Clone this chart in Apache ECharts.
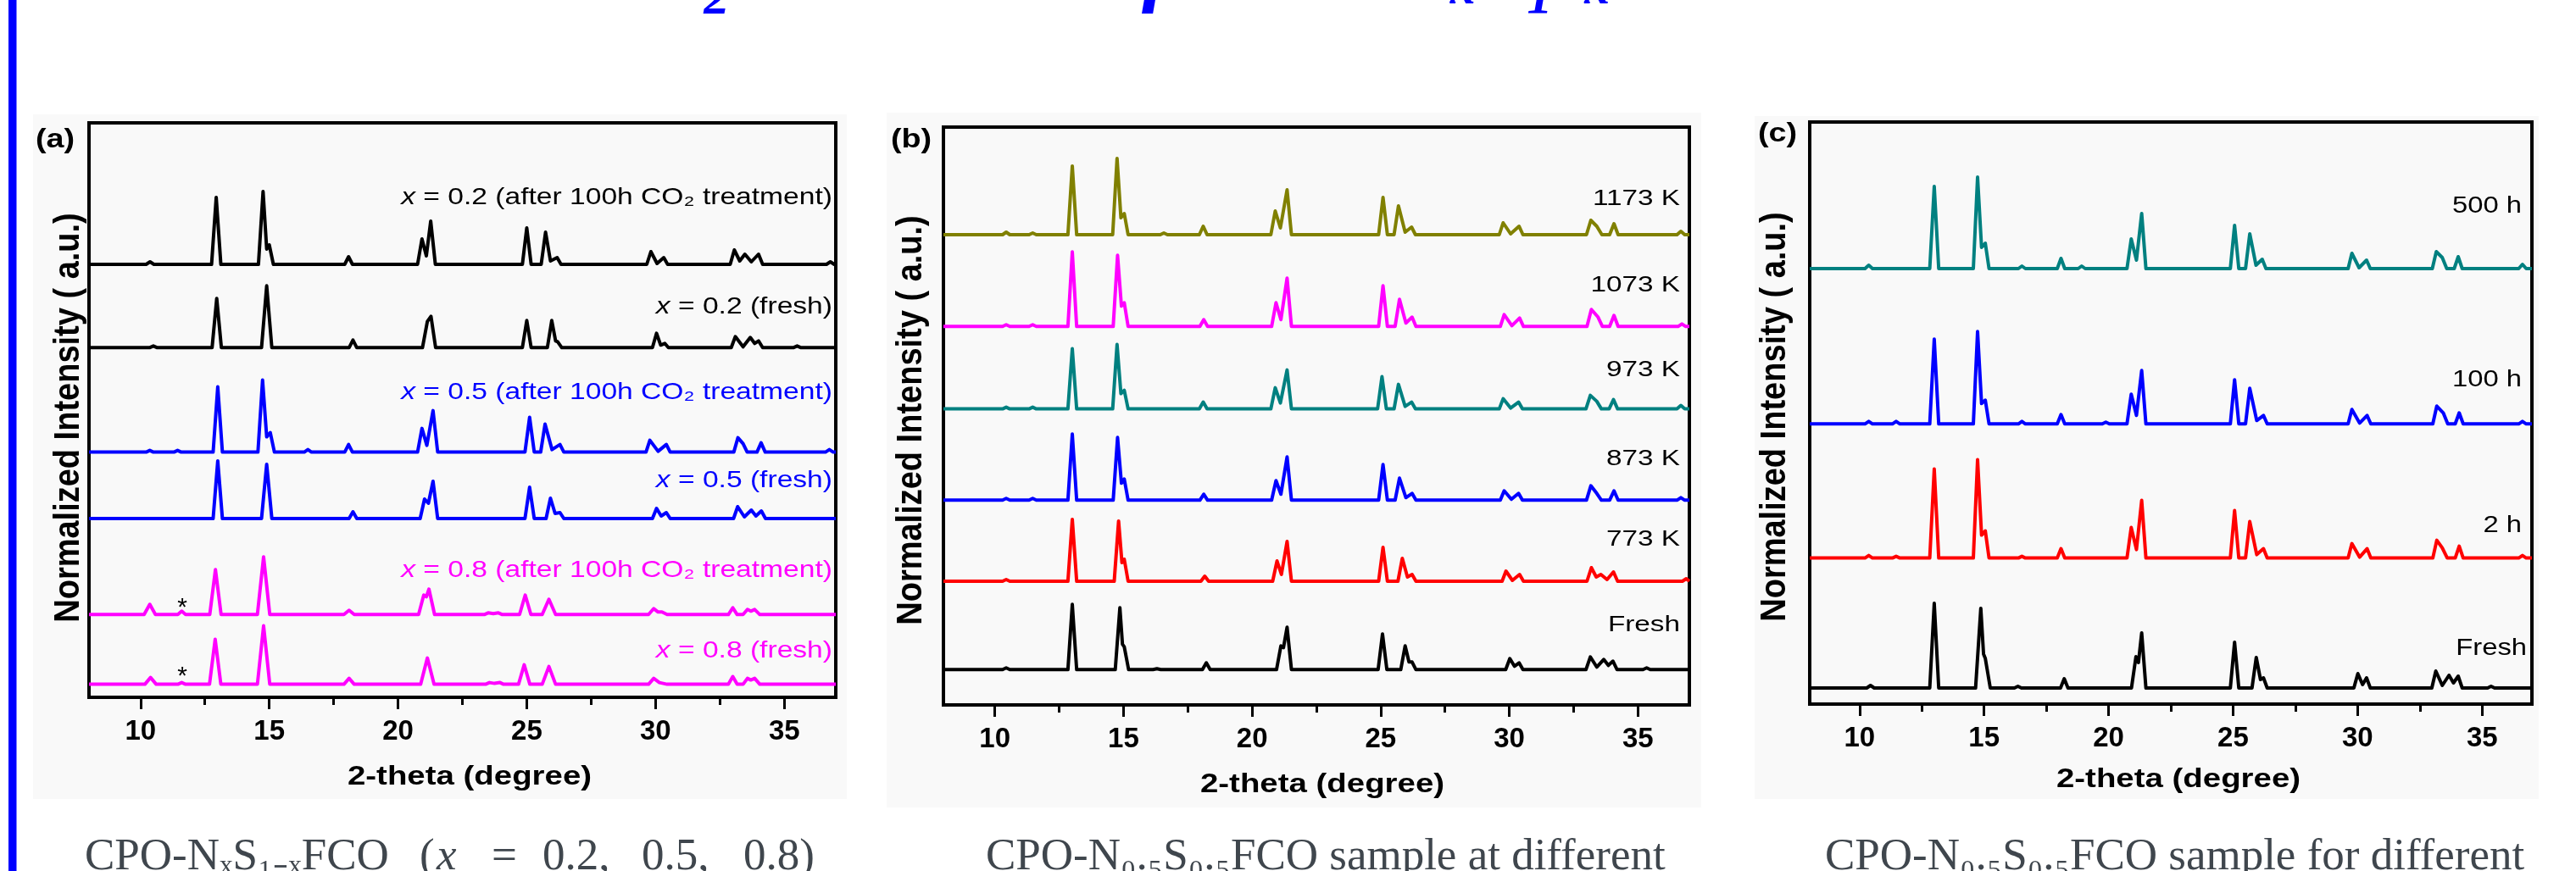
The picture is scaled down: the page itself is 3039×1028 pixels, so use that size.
<!DOCTYPE html>
<html><head><meta charset="utf-8">
<script src="https://cdn.jsdelivr.net/npm/echarts@6/dist/echarts.min.js"></script>
<style>html,body{margin:0;padding:0;background:#fff;}#c{width:3039px;height:1028px;}</style>
</head><body><div id="c"></div>
<script>
// ---------- axis ticks ----------
const xTicks = [10, 15, 20, 25, 30, 35];
const xMinorTicks = [12.5, 17.5, 22.5, 27.5, 32.5];

// ---------- panel (a): CPO-NxS1-xFCO, intensity above own baseline ----------
const a_x02_CO2 = [[8,0],[10.22,0],[10.37,3],[10.52,0],[12.76,0],[12.94,79],[13.12,0],
 [14.58,0],[14.76,86],[14.9,18],[15.0,23],[15.16,0],[17.93,0],[18.08,9],[18.23,0],
 [20.76,0],[20.93,30],[21.1,10],[21.27,51],[21.45,0],[24.83,0],[25.0,43],[25.17,0],
 [25.56,0],[25.73,38],[25.92,4],[26.18,8],[26.33,0],[29.66,0],[29.82,15],[30.06,1],[30.32,8],[30.47,0],
 [32.9,0],[33.06,17],[33.27,4],[33.47,12],[33.72,3],[34.0,12],[34.16,0],[36.64,0],[36.79,3],[36.94,0],[37,0]];
const a_x02_fresh = [[8,0],[10.35,0],[10.5,2],[10.65,0],[12.78,0],[12.96,58],[13.14,0],
 [14.7,0],[14.9,73],[15.1,0],[18.1,0],[18.25,9],[18.4,0],
 [20.95,0],[21.14,31],[21.2,29],[21.28,37],[21.46,0],[24.83,0],[25.0,32],[25.17,0],
 [25.8,0],[25.97,32],[26.12,8],[26.2,7],[26.36,0],[29.88,0],[30.04,17],[30.2,3],[30.36,5],[30.5,0],
 [32.94,0],[33.1,13],[33.4,1],[33.68,12],[33.85,5],[34.0,8],[34.16,0],[35.35,0],[35.5,2],[35.65,0],[37,0]];
const a_x05_CO2 = [[8,0],[10.22,0],[10.36,2],[10.5,0],[11.3,0],[11.44,2],[11.58,0],
 [12.82,0],[13.0,77],[13.18,0],[14.56,0],[14.74,85],[14.9,18],[15.04,23],[15.2,0],
 [16.36,0],[16.5,3],[16.64,0],[17.93,0],[18.08,9],[18.23,0],
 [20.76,0],[20.93,28],[21.12,8],[21.36,49],[21.54,0],[24.93,0],[25.11,41],[25.29,0],
 [25.54,0],[25.71,33],[25.98,3],[26.29,9],[26.44,0],[29.63,0],[29.78,14],[30.1,1],[30.42,9],[30.57,0],
 [33.04,0],[33.2,17],[33.4,10],[33.56,0],[33.94,0],[34.1,11],[34.26,0],[36.6,0],[36.75,3],[36.9,0],[37,0]];
const a_x05_fresh = [[8,0],[12.82,0],[13.0,68],[13.18,0],[14.7,0],[14.9,64],[15.1,0],
 [18.1,0],[18.25,8],[18.4,0],[20.86,0],[21.03,23],[21.18,18],[21.36,44],[21.54,0],
 [24.93,0],[25.11,37],[25.29,0],[25.75,0],[25.92,24],[26.1,6],[26.29,7],[26.44,0],
 [29.88,0],[30.04,12],[30.22,3],[30.42,7],[30.57,0],
 [33.03,0],[33.19,14],[33.45,2],[33.72,10],[33.9,3],[34.11,9],[34.27,0],[37,0]];
const a_x08_CO2 = [[8,0],[10.14,0],[10.36,12],[10.58,0],[11.45,0],[11.6,4],[11.75,0],
 [12.69,0],[12.91,53],[13.13,0],[14.54,0],[14.78,68],[15.02,0],[17.9,0],[18.1,5],[18.3,0],
 [20.8,0],[21.0,23],[21.1,21],[21.2,30],[21.42,0],[23.35,0],[23.5,2],[23.7,1],[23.9,2],[24.05,0],
 [24.72,0],[24.94,23],[25.16,0],[25.6,0],[25.86,18],[26.12,0],
 [29.73,0],[29.93,7],[30.1,3],[30.25,3],[30.45,0],
 [32.83,0],[33.0,8],[33.17,0],[33.4,0],[33.57,6],[33.7,4],[33.85,6],[34.05,0],[37,0]];
const a_x08_fresh = [[8,0],[10.17,0],[10.39,8],[10.61,0],[11.45,0],[11.6,2],[11.75,0],
 [12.68,0],[12.9,53],[13.12,0],[14.54,0],[14.78,69],[15.02,0],[17.9,0],[18.1,7],[18.3,0],
 [20.88,0],[21.14,31],[21.4,0],[23.4,0],[23.55,2],[23.75,1],[23.96,2],[24.1,0],
 [24.68,0],[24.9,23],[25.12,0],[25.6,0],[25.86,21],[26.12,0],
 [29.73,0],[29.93,7],[30.15,2],[30.3,1],[30.45,0],
 [32.83,0],[33.0,9],[33.17,0],[33.4,0],[33.57,7],[33.7,5],[33.85,7],[34.05,0],[37,0]];
const a_offsets = [511, 412.7, 289.4, 211, 97.7, 15.4];
const a_colors = ['#000000','#000000','#0000ff','#0000ff','#ff00ff','#ff00ff'];
const a_names = ['x = 0.2 (after 100h CO₂ treatment)','x = 0.2 (fresh)','x = 0.5 (after 100h CO₂ treatment)','x = 0.5 (fresh)','x = 0.8 (after 100h CO₂ treatment)','x = 0.8 (fresh)'];

// ---------- panel (b): calcination temperature ----------
const b_1173 = [[8,0],[10.3,0],[10.44,3],[10.58,0],[11.33,0],[11.47,2],[11.61,0],
 [12.84,0],[13.01,81],[13.18,0],[14.58,0],[14.75,90],[14.9,20],[15.03,25],[15.18,0],
 [16.43,0],[16.57,2],[16.71,0],[17.95,0],[18.1,10],[18.25,0],
 [20.73,0],[20.9,28],[21.1,8],[21.36,53],[21.53,0],[24.92,0],[25.09,44],[25.26,0],
 [25.52,0],[25.69,34],[25.95,3],[26.2,9],[26.35,0],[29.61,0],[29.76,14],[30.05,1],[30.38,10],[30.53,0],
 [33.0,0],[33.17,17],[33.4,10],[33.6,0],[33.9,0],[34.07,13],[34.23,0],[36.52,0],[36.67,4],[36.82,0],[37,0]];
const b_1073 = [[8,0],[10.3,0],[10.44,2],[10.58,0],[11.33,0],[11.47,2],[11.61,0],
 [12.84,0],[13.01,88],[13.18,0],[14.6,0],[14.77,84],[14.92,24],[15.03,28],[15.18,0],
 [17.97,0],[18.12,8],[18.27,0],[20.76,0],[20.93,28],[21.12,8],[21.36,57],[21.53,0],
 [24.92,0],[25.09,48],[25.26,0],[25.56,0],[25.73,32],[25.98,4],[26.22,11],[26.37,0],
 [29.65,0],[29.8,14],[30.1,1],[30.4,10],[30.55,0],
 [33.02,0],[33.19,20],[33.45,11],[33.62,0],[33.9,0],[34.07,13],[34.23,0],[36.56,0],[36.71,3],[36.86,0],[37,0]];
const b_973 = [[8,0],[10.3,0],[10.44,2],[10.58,0],[11.33,0],[11.47,2],[11.61,0],
 [12.84,0],[13.01,71],[13.18,0],[14.58,0],[14.75,76],[14.9,18],[15.03,22],[15.18,0],
 [17.95,0],[18.1,8],[18.25,0],[20.73,0],[20.9,25],[21.1,7],[21.36,46],[21.53,0],
 [24.88,0],[25.05,38],[25.22,0],[25.52,0],[25.69,29],[25.95,3],[26.2,8],[26.35,0],
 [29.61,0],[29.76,12],[30.05,1],[30.36,8],[30.51,0],
 [32.98,0],[33.15,16],[33.4,9],[33.58,0],[33.88,0],[34.05,11],[34.21,0],[36.52,0],[36.67,4],[36.82,0],[37,0]];
const b_873 = [[8,0],[10.3,0],[10.44,2],[10.58,0],[11.33,0],[11.47,2],[11.61,0],
 [12.84,0],[13.01,78],[13.18,0],[14.6,0],[14.77,74],[14.92,20],[15.03,25],[15.18,0],
 [17.97,0],[18.12,7],[18.27,0],[20.76,0],[20.93,23],[21.12,7],[21.36,51],[21.53,0],
 [24.92,0],[25.09,42],[25.26,0],[25.56,0],[25.73,26],[25.98,3],[26.22,8],[26.37,0],
 [29.65,0],[29.8,11],[30.08,1],[30.36,8],[30.51,0],
 [33.0,0],[33.17,17],[33.4,8],[33.58,0],[33.9,0],[34.07,11],[34.23,0],[36.52,0],[36.67,3],[36.82,0],[37,0]];
const b_773 = [[8,0],[10.3,0],[10.44,2],[10.58,0],[12.84,0],[13.01,73],[13.18,0],
 [14.64,0],[14.81,71],[14.94,22],[15.03,26],[15.18,0],[18.01,0],[18.16,6],[18.31,0],
 [20.8,0],[20.97,24],[21.14,8],[21.36,47],[21.53,0],[24.92,0],[25.09,40],[25.26,0],
 [25.67,0],[25.84,27],[26.04,5],[26.22,8],[26.37,0],[29.72,0],[29.87,12],[30.12,1],[30.4,8],[30.55,0],
 [33.02,0],[33.19,16],[33.38,5],[33.56,8],[33.8,2],[34.05,11],[34.21,0],[36.73,0],[36.88,3],[37,0]];
const b_fresh = [[8,0],[10.3,0],[10.44,2],[10.58,0],[12.84,0],[13.01,77],[13.18,0],
 [14.68,0],[14.86,73],[14.96,30],[15.03,27],[15.2,0],[16.15,0],[16.3,1],[16.45,0],
 [18.07,0],[18.22,8],[18.37,0],[20.95,0],[21.12,28],[21.22,26],[21.36,50],[21.53,0],
 [24.9,0],[25.07,42],[25.24,0],[25.78,0],[25.95,28],[26.1,9],[26.22,9],[26.37,0],
 [29.86,0],[30.02,13],[30.2,4],[30.38,8],[30.53,0],
 [32.98,0],[33.15,15],[33.4,3],[33.67,12],[33.85,5],[34.03,10],[34.19,0],[35.2,0],[35.34,2],[35.48,0],[37,0]];
const b_offsets = [555, 446.7, 349.4, 241.7, 146, 41.7];
const b_colors = ['#808000','#ff00ff','#008080','#0000ff','#ff0000','#000000'];
const b_names = ['1173 K','1073 K','973 K','873 K','773 K','Fresh'];

// ---------- panel (c): CO2 exposure time ----------
const c_500h = [[8,0],[10.22,0],[10.37,4],[10.52,0],[12.82,0],[13.0,97],[13.18,0],
 [14.57,0],[14.74,108],[14.9,25],[15.05,30],[15.2,0],[16.38,0],[16.52,3],[16.66,0],
 [17.94,0],[18.09,12],[18.24,0],[18.78,0],[18.92,3],[19.06,0],
 [20.74,0],[20.91,35],[21.12,10],[21.33,65],[21.5,0],[24.89,0],[25.06,51],[25.23,0],
 [25.5,0],[25.67,41],[25.92,4],[26.17,11],[26.32,0],[29.62,0],[29.77,18],[30.06,1],[30.36,10],[30.51,0],
 [33.0,0],[33.16,20],[33.4,13],[33.58,0],[33.88,0],[34.04,14],[34.2,0],[36.47,0],[36.62,5],[36.77,0],[37,0]];
const c_100h = [[8,0],[10.22,0],[10.37,3],[10.52,0],[11.32,0],[11.47,3],[11.62,0],
 [12.82,0],[13.0,100],[13.18,0],[14.57,0],[14.74,109],[14.9,24],[15.05,28],[15.2,0],
 [16.38,0],[16.52,3],[16.66,0],[17.94,0],[18.09,11],[18.24,0],[19.75,0],[19.89,2],[20.03,0],
 [20.74,0],[20.91,35],[21.12,10],[21.33,63],[21.5,0],[24.89,0],[25.06,52],[25.23,0],
 [25.5,0],[25.67,42],[25.95,4],[26.22,10],[26.37,0],[29.62,0],[29.77,17],[30.08,1],[30.38,10],[30.53,0],
 [33.02,0],[33.18,21],[33.44,13],[33.62,0],[33.92,0],[34.08,13],[34.24,0],[36.47,0],[36.62,3],[36.77,0],[37,0]];
const c_2h = [[8,0],[10.22,0],[10.37,3],[10.52,0],[11.32,0],[11.47,2],[11.62,0],
 [12.82,0],[13.0,105],[13.18,0],[14.57,0],[14.74,116],[14.9,27],[15.05,32],[15.2,0],
 [16.38,0],[16.52,2],[16.66,0],[17.94,0],[18.09,11],[18.24,0],
 [20.74,0],[20.91,36],[21.12,10],[21.33,68],[21.5,0],[24.89,0],[25.06,56],[25.23,0],
 [25.5,0],[25.67,43],[25.95,4],[26.22,11],[26.37,0],[29.62,0],[29.77,17],[30.08,1],[30.38,11],[30.53,0],
 [33.02,0],[33.18,21],[33.4,12],[33.6,0],[33.92,0],[34.08,14],[34.24,0],[36.47,0],[36.62,3],[36.77,0],[37,0]];
const c_fresh = [[8,0],[10.29,0],[10.44,3],[10.59,0],[12.82,0],[13.0,100],[13.18,0],
 [14.66,0],[14.87,94],[14.98,40],[15.05,35],[15.25,0],[16.22,0],[16.36,2],[16.5,0],
 [18.07,0],[18.22,11],[18.37,0],[20.92,0],[21.1,37],[21.2,30],[21.33,65],[21.5,0],
 [24.89,0],[25.06,54],[25.23,0],[25.76,0],[25.93,36],[26.1,10],[26.22,12],[26.37,0],
 [29.85,0],[30.01,17],[30.2,4],[30.36,12],[30.51,0],
 [32.98,0],[33.14,20],[33.4,3],[33.67,15],[33.85,6],[34.04,14],[34.2,0],[35.22,0],[35.36,2],[35.5,0],[37,0]];
const c_offsets = [514, 330.7, 172.4, 19];
const c_colors = ['#008080','#0000ff','#ff0000','#000000'];
const c_names = ['500 h','100 h','2 h','Fresh'];

// ---------- build ----------
const panels = [
  {grid:{left:105, top:145, width:881, height:678}, data:[a_x02_CO2,a_x02_fresh,a_x05_CO2,a_x05_fresh,a_x08_CO2,a_x08_fresh], off:a_offsets, col:a_colors, names:a_names},
  {grid:{left:1113, top:150, width:880, height:682}, data:[b_1173,b_1073,b_973,b_873,b_773,b_fresh], off:b_offsets, col:b_colors, names:b_names},
  {grid:{left:2135, top:144, width:852, height:687}, data:[c_500h,c_100h,c_2h,c_fresh], off:c_offsets, col:c_colors, names:c_names}
];
const grid=[], xAxis=[], yAxis=[], series=[];
panels.forEach((p,i)=>{
  grid.push(Object.assign({show:true, borderColor:'#000', borderWidth:4, backgroundColor:'rgba(0,0,0,0)'}, p.grid));
  xAxis.push({type:'value', gridIndex:i, min:8, max:37, position:'bottom',
    axisLine:{show:false}, splitLine:{show:false},
    axisTick:{show:true, inside:false, length:14, lineStyle:{width:3, color:'#000'}, customValues:xTicks},
    axisLabel:{show:true, customValues:xTicks, margin:24, fontSize:33, fontWeight:'bold', fontFamily:'Liberation Sans, Arial', color:'#000'}});
  xAxis.push({type:'value', gridIndex:i, min:8, max:37, position:'bottom',
    axisLine:{show:false}, splitLine:{show:false},
    axisTick:{show:true, inside:false, length:9, lineStyle:{width:3, color:'#000'}, customValues:xMinorTicks},
    axisLabel:{show:false}});
  yAxis.push({type:'value', gridIndex:i, min:0, max:p.grid.height, show:false});
  p.data.forEach((d,k)=>{
    series.push({type:'line', name:p.names[k], xAxisIndex:2*i, yAxisIndex:i, symbol:'none', silent:true,
      animation:false, lineStyle:{color:p.col[k], width:4, join:'round'}, z:3,
      data:d.map(pt=>[pt[0], pt[1]+p.off[k]])});
  });
});

const SANS='Liberation Sans, Arial, sans-serif';
const SERIF='Liberation Serif, Times New Roman, serif';
const g=[];
// slide decorations
g.push({type:'rect', z:-20, shape:{x:10,y:0,width:9.5,height:1028}, style:{fill:'#0000ff'}});
g.push({type:'rect', z:-30, shape:{x:39,y:135,width:960,height:808}, style:{fill:'#f9f9f9'}});
g.push({type:'rect', z:-30, shape:{x:1046,y:133,width:961,height:820}, style:{fill:'#f9f9f9'}});
g.push({type:'rect', z:-30, shape:{x:2070,y:137,width:925,height:806}, style:{fill:'#f9f9f9'}});
// title (cut off at top in the reference)
g.push({type:'text', x:690, y:-31, z:50, style:{text:'CO₂ tolerance of CPO-NₓS₁₋ₓFCO membranes', fontSize:100, fontWeight:'bold', fontStyle:'italic', fontFamily:SERIF, fill:'#0000ff', textAlign:'left', textVerticalAlign:'middle'}});
function txt(x,y,t,o){ const s=Object.assign({text:t, fontFamily:SANS, fontSize:28, fill:'#000', textAlign:'center', textVerticalAlign:'middle'}, o.style||{});
  const e={type:'text', x:x, y:y, z:50, style:s}; if(o.scaleX) e.scaleX=o.scaleX; if(o.scaleY) e.scaleY=o.scaleY; if(o.rotation) e.rotation=o.rotation; g.push(e); }
// panel letters
txt(65,165,'(a)',{scaleX:1.18, style:{fontSize:32,fontWeight:'bold'}});
txt(1075,165,'(b)',{scaleX:1.18, style:{fontSize:32,fontWeight:'bold'}});
txt(2097,158,'(c)',{scaleX:1.18, style:{fontSize:32,fontWeight:'bold'}});
// axis titles
[[81,493],[1075,496],[2094,492]].forEach(q=>txt(q[0],q[1],'Normalized Intensity ( a.u.)',{rotation:Math.PI/2, scaleY:1.12, style:{fontSize:38,fontWeight:'bold'}}));
[[554,917],[1560,926],[2570,920]].forEach(q=>txt(q[0],q[1],'2-theta (degree)',{scaleX:1.2, style:{fontSize:32,fontWeight:'bold'}}));
// curve labels
const aY=[233,362,463,567,673,768];
a_names.forEach((n,k)=>{ txt(982,aY[k],'{i|x}'+n.slice(1),{scaleX:1.2, style:{textAlign:'right', fill:a_colors[k], fontSize:28,
  rich:{i:{fontStyle:'italic', fontSize:28, fontFamily:SANS, fill:a_colors[k]}}}}); });
txt(215,718,'*',{style:{fontSize:30}});
txt(215,799,'*',{style:{fontSize:30}});
const bY=[235,337,437,542,637,738];
b_names.forEach((n,k)=>txt(1982,bY[k],n,{scaleX:1.28, style:{textAlign:'right', fontSize:26}}));
const cY=[243,448,620,765];
const cR=[2975,2975,2975,2981];
c_names.forEach((n,k)=>txt(cR[k],cY[k],n,{scaleX:1.17, style:{textAlign:'right', fontSize:28}}));
// captions (cut off at bottom)
const capS={fontFamily:SERIF, fontSize:53, fill:'#3f464d', textAlign:'left'};
txt(100,1012,'CPO-NₓS₁₋ₓFCO',{style:capS});
txt(495,1012,'(',{style:capS});
txt(515,1012,'x',{style:Object.assign({fontStyle:'italic'},capS)});
txt(580,1012,'=',{style:capS});
txt(640,1012,'0.2,',{style:capS});
txt(757,1012,'0.5,',{style:capS});
txt(877,1012,'0.8)',{style:capS});
txt(1163,1012,'CPO-N₀.₅S₀.₅FCO sample at different',{style:capS});
txt(2153,1012,'CPO-N₀.₅S₀.₅FCO sample for different',{style:capS});

const chart = echarts.init(document.getElementById('c'), null, {renderer:'canvas'});
chart.setOption({animation:false, backgroundColor:'#ffffff', grid, xAxis, yAxis, series, graphic:{elements:g}});
</script></body></html>
